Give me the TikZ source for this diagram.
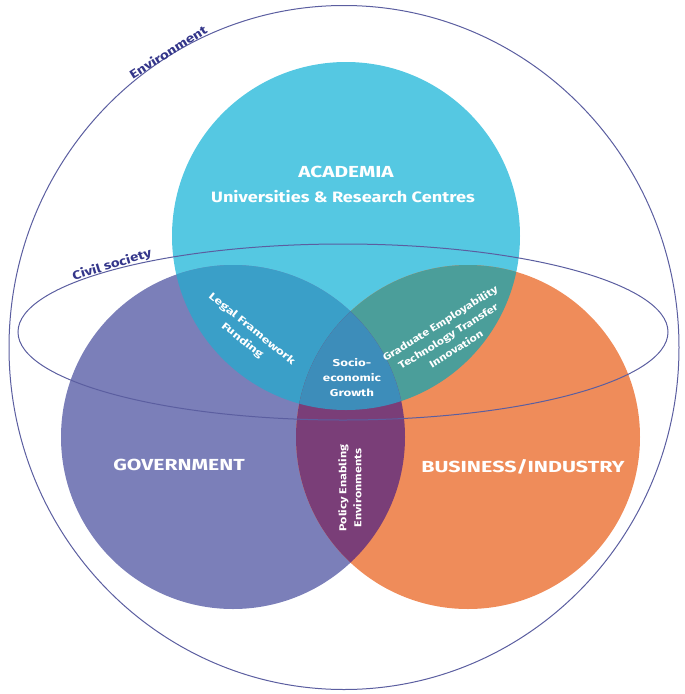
\documentclass[tikz,border=0pt]{standalone}
\usepackage{fontspec}
\setmainfont{Fira Sans}
\definecolor{acad}{HTML}{55C8E2}
\definecolor{gov}{HTML}{7B7FB9}
\definecolor{bus}{HTML}{EF8C5A}
\definecolor{ag}{HTML}{3A9FC8}
\definecolor{ab}{HTML}{4B9E9A}
\definecolor{gb}{HTML}{7A3E78}
\definecolor{ctr}{HTML}{3D8DBA}
\definecolor{ringc}{HTML}{5B5EA0}
\definecolor{navy}{HTML}{34368A}
\begin{document}
\begin{tikzpicture}[x=1pt,y=-1pt,
  ring/.style={draw=ringc,line width=1pt},
  bigtxt/.style={text=white,font=\bfseries\fontsize{16}{18}\selectfont,inner sep=0pt},
  smalltxt/.style={text=white,font=\bfseries\fontsize{10}{15}\selectfont,align=center,inner sep=0pt},
  ringtxt/.style={text=navy,font=\bfseries\fontsize{12}{14}\selectfont,inner sep=0pt}]
\useasboundingbox (0,0) rectangle (685,694);
\coordinate (A) at (346,236);
\coordinate (G) at (233,437);
\coordinate (B) at (468,437);
\fill[acad] (A) circle[radius=174];
\fill[gov] (G) circle[radius=172];
\fill[bus] (B) circle[radius=172];
\begin{scope}
  \clip (A) circle[radius=174];
  \fill[ag] (G) circle[radius=172];
  \fill[ab] (B) circle[radius=172];
\end{scope}
\begin{scope}
  \clip (G) circle[radius=172];
  \fill[gb] (B) circle[radius=172];
\end{scope}
\begin{scope}
  \clip (A) circle[radius=174];
  \clip (G) circle[radius=172];
  \fill[ctr] (B) circle[radius=172];
\end{scope}
\draw[ring] (344,347.5) ellipse[x radius=335,y radius=342];
\draw[ring] (343,332) ellipse[x radius=325,y radius=88];
\node[ringtxt,rotate=32,xscale=1.28] (env) at (168,52) {Environment};
\node[ringtxt,rotate=17,xscale=1.25] (civ) at (112,265) {Civil society};
\node[bigtxt,xscale=1.3] (acadt) at (346,172) {ACADEMIA};
\node[bigtxt,font=\bfseries\fontsize{15}{17}\selectfont,xscale=1.21] (acads) at (343,197) {Universities \& Research Centres};
\node[bigtxt,xscale=1.32] (govt) at (179,465) {GOVERNMENT};
\node[bigtxt,xscale=1.34] (bust) at (523,467) {BUSINESS/INDUSTRY};
\node[smalltxt,rotate=-39,xscale=1.4] (legal) at (247,335) {Legal Framework\\Funding};
\node[smalltxt,xscale=1.33] (socio) at (352,378) {Socio-\\economic\\Growth};
\node[smalltxt,rotate=32,xscale=1.25] (grad) at (448,336) {Graduate Employability\\Technology Transfer\\Innovation};
\node[smalltxt,rotate=90,xscale=1.25] (policy) at (350,488) {Policy Enabling\\Environments};
\end{tikzpicture}
\end{document}
